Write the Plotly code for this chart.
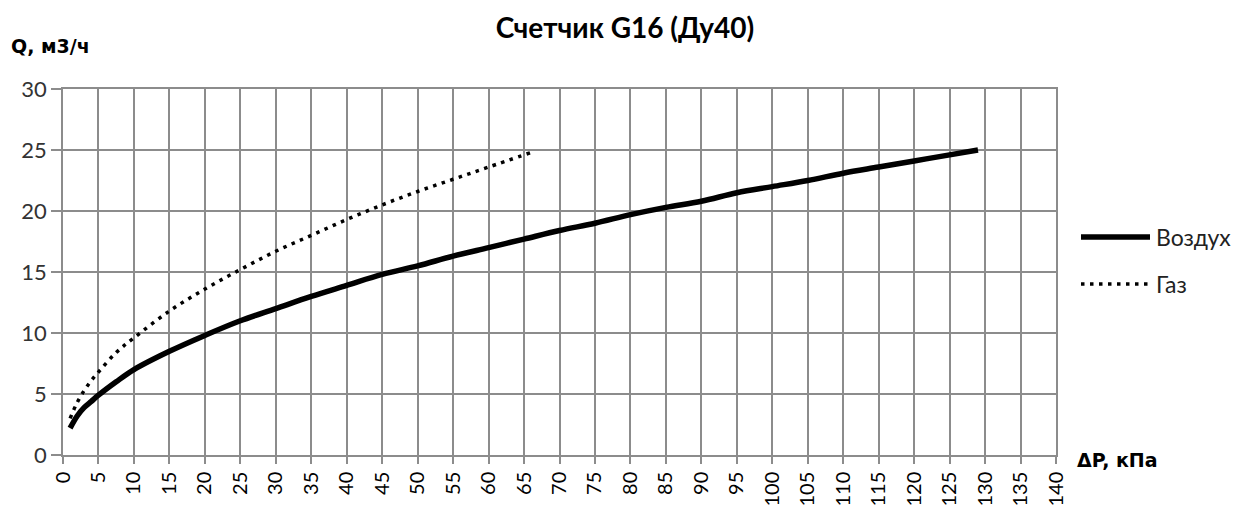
import plotly.graph_objects as go

# Data
air_dp = [1, 2, 3, 4, 5, 7.5, 10, 15, 20, 25, 30, 35, 40, 45, 50, 55, 60, 65, 70, 75,
          80, 85, 90, 95, 100, 105, 110, 115, 120, 125, 129]
air_q = [2.2, 3.2, 3.9, 4.4, 4.9, 6.0, 7.0, 8.5, 9.8, 11.0, 12.0, 13.0, 13.9, 14.8, 15.5,
         16.3, 17.0, 17.7, 18.4, 19.0, 19.7, 20.3, 20.8, 21.5, 22.0, 22.5, 23.1, 23.6,
         24.1, 24.6, 25.0]
gas_dp = [1, 2, 3, 4, 5, 7.5, 10, 15, 20, 25, 30, 35, 40, 45, 50, 55, 60, 66]
gas_q = [3.0, 4.3, 5.3, 6.1, 6.8, 8.4, 9.6, 11.8, 13.6, 15.2, 16.7, 18.0, 19.3, 20.5,
         21.6, 22.6, 23.6, 24.8]
x_ticks = list(range(0, 145, 5))
y_ticks = list(range(0, 35, 5))

title = "Счетчик G16 (Ду40)"
y_title = "Q, м3/ч"
x_title = "ΔP, кПа"
names = ["Воздух", "Газ"]

FONT = "Lato, Open Sans, sans-serif"
TFONT = "DejaVu Sans, sans-serif"
GRID = "#8c8c8c"
DOT = "3.5px,5.5px"

fig = go.Figure()
fig.add_trace(go.Scatter(x=air_dp, y=air_q, mode="lines", name=names[0],
                         line=dict(color="black", width=5.5, shape="spline"),
                         showlegend=False))
fig.add_trace(go.Scatter(x=gas_dp, y=gas_q, mode="lines", name=names[1],
                         line=dict(color="black", width=3.5, dash=DOT, shape="spline"),
                         showlegend=False))

# page offset: the html body has an 8px margin
OFF = 8
PAGE_W, PAGE_H = 1241, 511
W, H = PAGE_W - OFF, PAGE_H - OFF
# plot area in page pixels: left 63, right 1056, top 89, bottom 455
L, T = 63 - OFF, 89 - OFF
R = PAGE_W - 1056
B = PAGE_H - 455
pw = W - L - R
ph = H - T - B

def px_to_paper_x(px):
    return (px - OFF - L) / pw

def px_to_paper_y(py):
    return (H - B - (py - OFF)) / ph

# Manual legend (long line samples as in the original)
legend_items = [(names[0], 237, dict(color="black", width=5.5)),
                (names[1], 284, dict(color="black", width=3.5, dash=DOT))]
shapes = []
annotations = []
for name, py, ln in legend_items:
    shapes.append(dict(type="line", xref="paper", yref="paper",
                       x0=px_to_paper_x(1081), x1=px_to_paper_x(1150),
                       y0=px_to_paper_y(py), y1=px_to_paper_y(py), line=ln))
    annotations.append(dict(text=name, xref="paper", yref="paper",
                            x=px_to_paper_x(1154), y=px_to_paper_y(py),
                            xanchor="left", yanchor="middle", showarrow=False,
                            font=dict(family=FONT, size=23, color="#222")))

annotations.append(dict(text="<b>" + y_title + "</b>", xref="paper", yref="paper",
                        x=px_to_paper_x(9), y=px_to_paper_y(46),
                        xanchor="left", yanchor="middle", showarrow=False,
                        font=dict(family=TFONT, size=19, color="black")))
annotations.append(dict(text="<b>" + x_title + "</b>", xref="paper", yref="paper",
                        x=px_to_paper_x(1075), y=px_to_paper_y(460),
                        xanchor="left", yanchor="middle", showarrow=False,
                        font=dict(family=TFONT, size=19, color="black")))

fig.update_layout(
    width=W, height=H,
    margin=dict(l=L, r=R, t=T, b=B, autoexpand=False),
    paper_bgcolor="white", plot_bgcolor="white",
    title=dict(text="<b>" + title + "</b>", x=(625 - OFF) / W, xanchor="center",
               xref="container", yref="container",
               y=1 - (28 - OFF) / H, yanchor="middle",
               font=dict(family=FONT, size=28, color="black")),
    shapes=shapes, annotations=annotations,
    showlegend=False,
)
fig.update_xaxes(range=[0, 140], tickvals=x_ticks, ticktext=[str(v) for v in x_ticks],
                 tickangle=-90, showgrid=True, gridcolor=GRID, gridwidth=1.5,
                 zeroline=False, showline=True, linecolor=GRID, linewidth=1.5,
                 mirror=True, ticks="outside", ticklen=7, tickcolor=GRID, tickwidth=1.5,
                 automargin=False,
                 tickfont=dict(family=FONT, size=20, color="black"))
fig.update_yaxes(range=[0, 30], tickvals=y_ticks, showgrid=True, gridcolor=GRID,
                 gridwidth=1.5, zeroline=False, showline=True, linecolor=GRID,
                 linewidth=1.5, mirror=True, ticks="outside", ticklen=10,
                 tickcolor=GRID, tickwidth=1.5, automargin=False,
                 tickfont=dict(family=FONT, size=22, color="#333"))

fig.write_html("out.html")
